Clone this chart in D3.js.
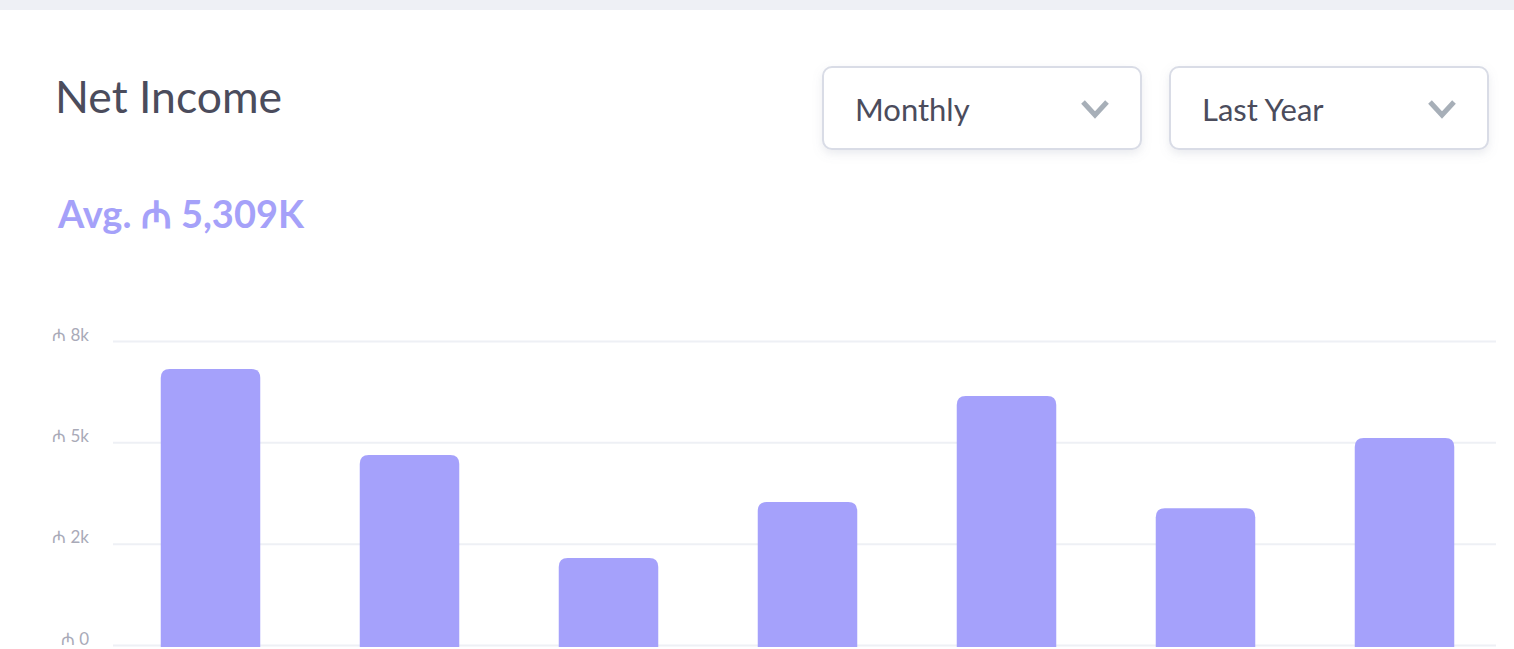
<!DOCTYPE html>
<html>
<head>
<meta charset="utf-8">
<script src="https://cdn.jsdelivr.net/npm/d3@7"></script>
<style>
  body { margin: 0; background: #fff; font-family: Lato, "Open Sans", sans-serif; overflow: hidden; }
</style>
</head>
<body>
<div id="chart"></div>
<script>
var width = 1514, height = 649;

var title = "Net Income";
var avgLabel = "Avg. \u20BC 5,309K";
var dropdowns = ["Monthly", "Last Year"];

var months = ["Jan", "Feb", "Mar", "Apr", "May", "Jun", "Jul"];
var income = [7260, 5000, 2290, 3760, 6550, 3600, 5450];

var tickValues = [0, 8000 / 3, 16000 / 3, 8000];
var tickLabels = ["\u20BC 0", "\u20BC 2k", "\u20BC 5k", "\u20BC 8k"];

var svg = d3.select("#chart").append("svg").attr("width", width).attr("height", height);

var defs = svg.append("defs");
var shadow = defs.append("filter").attr("id", "shadow")
	.attr("x", "-10%").attr("y", "-20%").attr("width", "120%").attr("height", "150%");
shadow.append("feDropShadow")
	.attr("dx", 0).attr("dy", 4).attr("stdDeviation", 5)
	.attr("flood-color", "#8a90a8").attr("flood-opacity", 0.18);

// top strip of page background
svg.append("rect").attr("width", width).attr("height", 10).attr("fill", "#eef0f5");

svg.append("text")
	.attr("x", 55).attr("y", 113)
	.attr("font-size", 44.5).attr("fill", "#4b4c5c")
	.text(title);

svg.append("text")
	.attr("x", 58).attr("y", 228)
	.attr("font-size", 38).attr("font-weight", 700).attr("fill", "#a5a1f9")
	.text(avgLabel);

// dropdown boxes
var dd = svg.selectAll("g.dropdown")
	.data(dropdowns)
	.enter().append("g")
		.attr("class", "dropdown")
		.attr("transform", function(d, i) { return "translate(" + (823 + i * 347) + ",67)"; });

dd.append("rect")
	.attr("width", 318).attr("height", 82).attr("rx", 9)
	.attr("fill", "#fff").attr("stroke", "#d9dce6").attr("stroke-width", 2)
	.attr("filter", "url(#shadow)");

dd.append("text")
	.attr("x", 32).attr("y", 54)
	.attr("font-size", 31).attr("fill", "#4b4c5c")
	.text(function(d) { return d; });

dd.append("path")
	.attr("d", "M260,35 L272,48 L284,35")
	.attr("fill", "none").attr("stroke", "#a7afb8").attr("stroke-width", 5)
	.attr("stroke-linecap", "butt").attr("stroke-linejoin", "miter");

// chart
var x = d3.scaleBand().domain(months).range([111, 1504]).paddingInner(0.5).paddingOuter(0.25);
var y = d3.scaleLinear().domain([0, 8000]).range([645, 341]);

var grid = svg.append("g")
	.attr("transform", "translate(113,0)")
	.call(d3.axisLeft(y)
		.tickValues(tickValues)
		.tickSize(-(1496 - 113))
		.tickFormat(function(d, i) { return tickLabels[i]; }));

grid.select(".domain").remove();
grid.selectAll(".tick line").attr("stroke", "#eef0f5").attr("stroke-width", 2);
grid.selectAll(".tick text")
	.attr("x", -24).attr("dy", "-0.05em")
	.attr("font-family", "Lato, sans-serif").attr("font-size", 17).attr("fill", "#a9aab8");

function topRounded(x0, y0, w, h, r) {
	return "M" + x0 + "," + (y0 + h) +
		"V" + (y0 + r) +
		"Q" + x0 + "," + y0 + " " + (x0 + r) + "," + y0 +
		"H" + (x0 + w - r) +
		"Q" + (x0 + w) + "," + y0 + " " + (x0 + w) + "," + (y0 + r) +
		"V" + (y0 + h) + "Z";
}

svg.append("g").attr("class", "bars")
	.selectAll("path")
	.data(income)
	.enter().append("path")
		.attr("fill", "#a5a1fb")
		.attr("d", function(d, i) {
			var top = y(d);
			return topRounded(x(months[i]), top, x.bandwidth(), y(0) + 2 - top, 9);
		});
</script>
</body>
</html>
